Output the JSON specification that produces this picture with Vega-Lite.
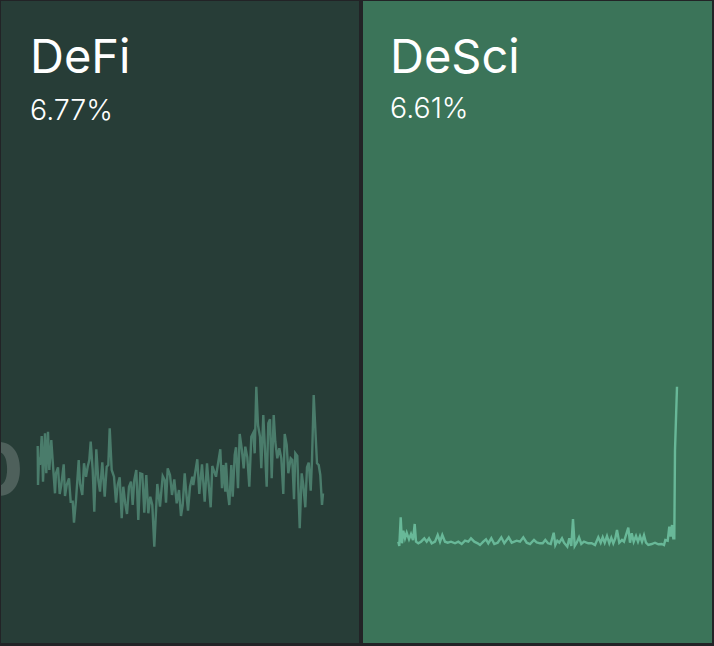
{"$schema":"https://vega.github.io/schema/vega-lite/v6.json","background":"#222326","padding":{"left":1,"top":1,"right":2,"bottom":3},"spacing":4,"config":{"view":{"stroke":null},"title":{"anchor":"start","frame":"group","font":"Inter","fontSize":47,"fontWeight":400,"color":"#ffffff","subtitleFont":"Inter","subtitleFontSize":28.5,"subtitleFontWeight":300,"subtitleColor":"#ffffff"}},"datasets":{"defi":[{"t":36.7,"v":197},{"t":37,"v":158},{"t":38,"v":185.7},{"t":39,"v":178},{"t":40.7,"v":207},{"t":42,"v":161.3},{"t":44,"v":209.7},{"t":45.3,"v":169.7},{"t":47,"v":211.3},{"t":48.3,"v":173},{"t":50.3,"v":203},{"t":52.3,"v":173},{"t":54,"v":149.7},{"t":55,"v":169.7},{"t":57,"v":175.7},{"t":58.7,"v":149},{"t":60.3,"v":158},{"t":62.7,"v":178.7},{"t":64,"v":147},{"t":65.7,"v":158},{"t":68,"v":164.7},{"t":69.7,"v":141.3},{"t":71.7,"v":141.3},{"t":73,"v":120.3},{"t":75,"v":143},{"t":77.7,"v":183},{"t":79,"v":159.7},{"t":81.3,"v":148},{"t":83,"v":179.7},{"t":85,"v":166.3},{"t":86.7,"v":176.3},{"t":88.3,"v":183},{"t":89.7,"v":201.3},{"t":91.7,"v":173},{"t":93.3,"v":131.3},{"t":95.3,"v":193.7},{"t":97.3,"v":163},{"t":99,"v":151.3},{"t":101.3,"v":180.7},{"t":103.7,"v":146.3},{"t":105.7,"v":176.3},{"t":107.3,"v":178},{"t":108.7,"v":214.7},{"t":110.7,"v":173},{"t":113,"v":166.3},{"t":115,"v":140.3},{"t":116.7,"v":158},{"t":118.7,"v":165.7},{"t":120.7,"v":124.7},{"t":122.3,"v":156.3},{"t":124.3,"v":139},{"t":126,"v":129},{"t":128,"v":156.3},{"t":130,"v":161.3},{"t":131.7,"v":138},{"t":133.3,"v":163},{"t":135.3,"v":173},{"t":137.3,"v":123},{"t":139.3,"v":169.7},{"t":141.3,"v":169},{"t":143.3,"v":130.3},{"t":145.3,"v":168},{"t":147.3,"v":129.7},{"t":149.3,"v":146.3},{"t":151.3,"v":138},{"t":153.3,"v":96.3},{"t":156.3,"v":159},{"t":159,"v":136.3},{"t":161.7,"v":167},{"t":163.7,"v":163},{"t":165,"v":140.3},{"t":166.7,"v":174.7},{"t":169,"v":168},{"t":171,"v":148},{"t":173.3,"v":163.7},{"t":175.7,"v":139.7},{"t":178,"v":153},{"t":180,"v":127},{"t":181.7,"v":138},{"t":183.7,"v":169.7},{"t":185.3,"v":149.7},{"t":187,"v":132.3},{"t":189,"v":156.3},{"t":191.3,"v":166.3},{"t":192.3,"v":158},{"t":194.3,"v":171.3},{"t":196.3,"v":183.7},{"t":198.3,"v":149},{"t":201,"v":178.7},{"t":203.7,"v":141.3},{"t":206,"v":179.7},{"t":208.3,"v":151.3},{"t":209.7,"v":135.7},{"t":211.3,"v":177},{"t":215,"v":166.3},{"t":217.3,"v":181.3},{"t":219.3,"v":193.7},{"t":221,"v":154.7},{"t":222.3,"v":178},{"t":224.3,"v":151.3},{"t":225,"v":180.3},{"t":226.7,"v":151.3},{"t":228.3,"v":138},{"t":230.3,"v":178},{"t":231.7,"v":146.3},{"t":233.7,"v":188},{"t":235,"v":195.7},{"t":237,"v":154.7},{"t":238.7,"v":209},{"t":240.7,"v":194.7},{"t":242.7,"v":174.7},{"t":244.3,"v":196.3},{"t":246.3,"v":185.7},{"t":248.3,"v":156.3},{"t":250.3,"v":206.3},{"t":252.3,"v":210.3},{"t":253.7,"v":189.7},{"t":255.3,"v":256.3},{"t":257,"v":218},{"t":259,"v":206.3},{"t":260.3,"v":174.7},{"t":262.3,"v":228},{"t":264,"v":193},{"t":265.7,"v":156.3},{"t":267.3,"v":219.7},{"t":269,"v":223.7},{"t":270.7,"v":164.7},{"t":272.7,"v":228},{"t":274.3,"v":201.3},{"t":276.3,"v":184.7},{"t":278.3,"v":194.7},{"t":280.3,"v":184.7},{"t":282.3,"v":149},{"t":283.7,"v":209},{"t":285.7,"v":198},{"t":287.3,"v":169.7},{"t":289.7,"v":184.7},{"t":291.3,"v":183},{"t":293,"v":143.7},{"t":294.3,"v":189.7},{"t":296.3,"v":187},{"t":298.7,"v":114.7},{"t":300.7,"v":169.7},{"t":302.3,"v":158},{"t":304.3,"v":135.7},{"t":306,"v":175.7},{"t":307.7,"v":180.3},{"t":309.7,"v":152.3},{"t":311,"v":183},{"t":312.7,"v":248},{"t":314.7,"v":206.3},{"t":316,"v":179.7},{"t":317.7,"v":178},{"t":319.3,"v":168},{"t":321,"v":138},{"t":322,"v":149.7}],"desci":[{"t":35.3,"v":101.3},{"t":36.3,"v":97},{"t":37.7,"v":125.7},{"t":39,"v":99.7},{"t":40.3,"v":112.3},{"t":42,"v":104.7},{"t":43.7,"v":110.3},{"t":46,"v":103.7},{"t":48,"v":109},{"t":50,"v":103},{"t":51.7,"v":119},{"t":53,"v":101.3},{"t":55.3,"v":99.7},{"t":58,"v":101.3},{"t":61.3,"v":104.7},{"t":63.7,"v":101.3},{"t":66,"v":104.7},{"t":68.7,"v":99.7},{"t":72,"v":101.3},{"t":74.7,"v":108},{"t":77,"v":101.3},{"t":79.3,"v":108},{"t":82,"v":101.3},{"t":84.7,"v":100.3},{"t":88,"v":101.3},{"t":92,"v":99.7},{"t":95.3,"v":101.3},{"t":98.7,"v":99},{"t":102,"v":102.3},{"t":105.3,"v":101.3},{"t":108,"v":104.7},{"t":111.3,"v":101.3},{"t":114.7,"v":99.7},{"t":117,"v":98},{"t":120.3,"v":101.3},{"t":123,"v":103.7},{"t":125.3,"v":99.7},{"t":128.3,"v":104.7},{"t":131.3,"v":99},{"t":134.7,"v":100.3},{"t":138.3,"v":105.7},{"t":141.3,"v":99.7},{"t":145.7,"v":105.7},{"t":148.7,"v":100.3},{"t":153.7,"v":102.3},{"t":157,"v":101.3},{"t":160.3,"v":105.7},{"t":163.7,"v":100.3},{"t":167,"v":99},{"t":171,"v":103},{"t":173.7,"v":100.7},{"t":177,"v":99.7},{"t":179.7,"v":99.7},{"t":182.3,"v":103},{"t":185,"v":99.7},{"t":187.7,"v":99},{"t":190.7,"v":110.3},{"t":192.3,"v":98},{"t":194.3,"v":102.3},{"t":196.3,"v":100.3},{"t":199,"v":104.7},{"t":201,"v":100.3},{"t":204.3,"v":96.3},{"t":206.3,"v":104.7},{"t":208.3,"v":97},{"t":210,"v":124},{"t":211.7,"v":97},{"t":213.7,"v":100.3},{"t":216,"v":105.7},{"t":218.3,"v":99},{"t":221,"v":101.3},{"t":225.3,"v":99.7},{"t":228.7,"v":99.7},{"t":232,"v":98},{"t":235.3,"v":105.7},{"t":237.7,"v":100.3},{"t":239.7,"v":105.7},{"t":241.7,"v":100.3},{"t":244,"v":107},{"t":246.3,"v":99.7},{"t":248.3,"v":105.3},{"t":250.3,"v":99.7},{"t":252.3,"v":104.7},{"t":254,"v":113},{"t":256.3,"v":100.3},{"t":259,"v":103},{"t":261,"v":101.3},{"t":263,"v":108},{"t":265.3,"v":115.3},{"t":267,"v":100.3},{"t":268.7,"v":109.7},{"t":270.7,"v":101.3},{"t":273,"v":107},{"t":275,"v":101.3},{"t":277,"v":107},{"t":279,"v":101.3},{"t":281,"v":107.7},{"t":283,"v":100.3},{"t":285.3,"v":98},{"t":288.7,"v":99},{"t":292,"v":100.3},{"t":295.3,"v":98.7},{"t":298.7,"v":99},{"t":301,"v":98},{"t":302.3,"v":103},{"t":304.7,"v":102.3},{"t":306.3,"v":116.3},{"t":307.7,"v":106.3},{"t":309,"v":118},{"t":310.3,"v":104.7},{"t":311.3,"v":104.7},{"t":312,"v":193},{"t":314,"v":256.3}]},"hconcat":[{"width":358,"height":642,"view":{"fill":"#273d37"},"title":{"text":"DeFi","subtitle":"6.77%","dx":29,"offset":-125,"subtitlePadding":14},"layer":[{"data":{"values":[{"t":-3,"v":170,"label":"0"}]},"mark":{"type":"text","clip":true,"font":"Inter","fontSize":72,"fontWeight":800,"color":"#ffffff","opacity":0.18},"encoding":{"x":{"field":"t","type":"quantitative","scale":{"domain":[0,358]},"axis":null},"y":{"field":"v","type":"quantitative","scale":{"domain":[0,642]},"axis":null},"text":{"field":"label"}}},{"data":{"name":"defi"},"mark":{"type":"line","color":"#4a7c6b","strokeWidth":2.4},"encoding":{"x":{"field":"t","type":"quantitative","scale":{"domain":[0,358]},"axis":null},"y":{"field":"v","type":"quantitative","scale":{"domain":[0,642]},"axis":null}}}]},{"width":349,"height":642,"view":{"fill":"#3b7459"},"title":{"text":"DeSci","subtitle":"6.61%","dx":27,"offset":-123,"subtitlePadding":12},"data":{"name":"desci"},"mark":{"type":"line","color":"#68b898","strokeWidth":2.4},"encoding":{"x":{"field":"t","type":"quantitative","scale":{"domain":[0,349]},"axis":null},"y":{"field":"v","type":"quantitative","scale":{"domain":[0,642]},"axis":null}}}]}
